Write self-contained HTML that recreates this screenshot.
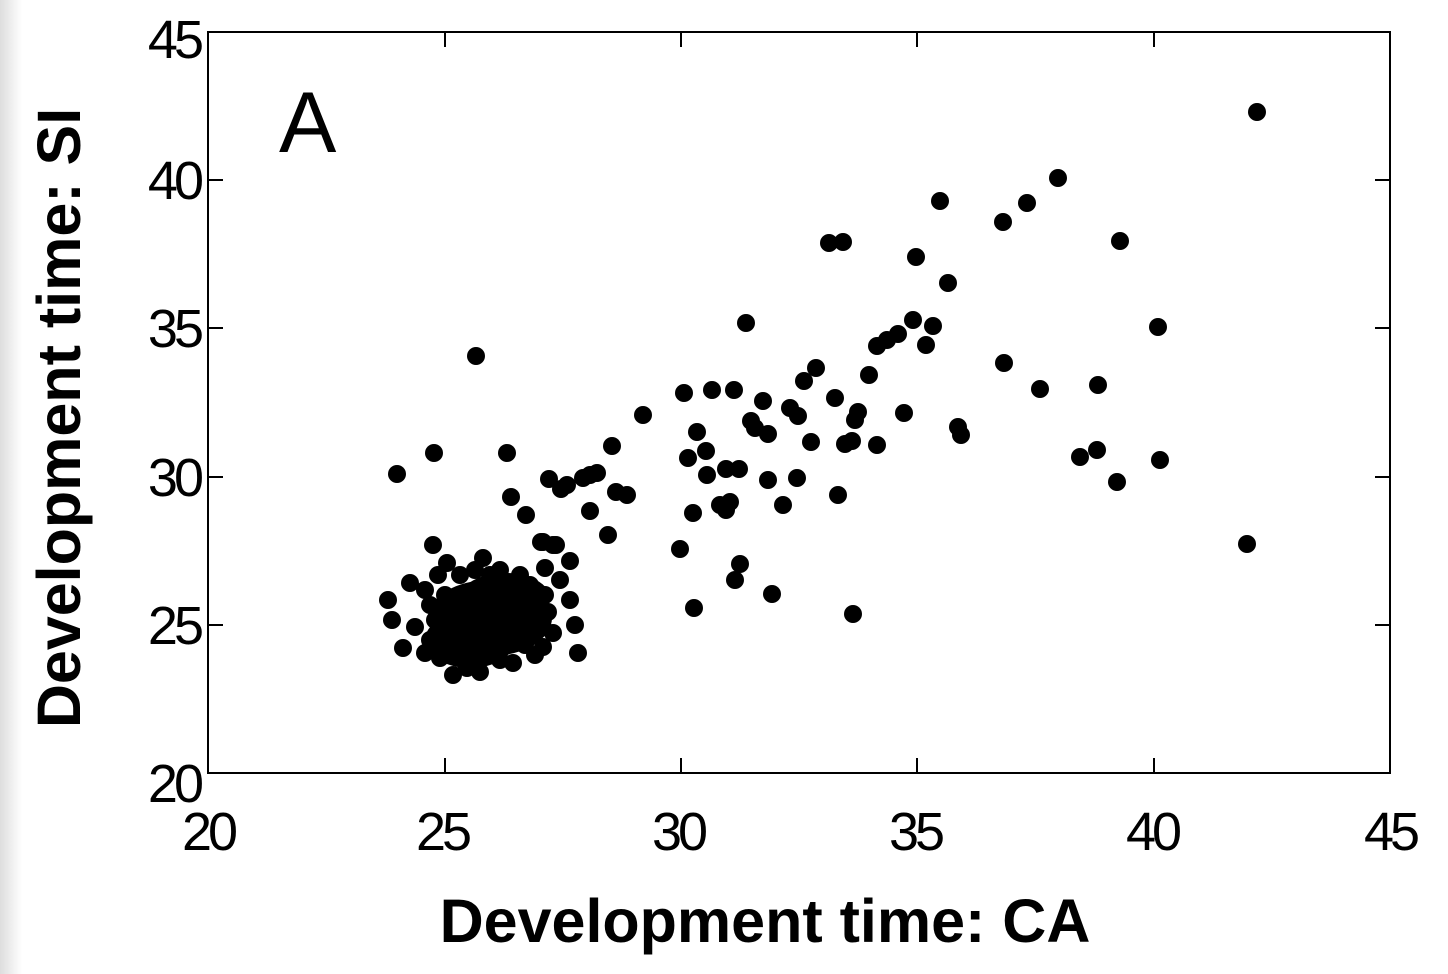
<!DOCTYPE html>
<html><head><meta charset="utf-8"><style>
html,body{margin:0;padding:0;background:#fff;}
svg{display:block;}
text{font-family:"Liberation Sans",Arial,sans-serif;}
</style></head><body>
<svg width="1448" height="974" viewBox="0 0 1448 974">
<defs><linearGradient id="g" x1="0" x2="1"><stop offset="0" stop-color="#ddd"/><stop offset="1" stop-color="#fff"/></linearGradient></defs>
<rect x="0" y="0" width="22" height="974" fill="url(#g)"/>
<rect x="208" y="32" width="1182" height="741" fill="none" stroke="#000" stroke-width="2"/>
<g stroke="#000" stroke-width="2">
<line x1="445" y1="773" x2="445" y2="758"/><line x1="681" y1="773" x2="681" y2="758"/><line x1="917" y1="773" x2="917" y2="758"/><line x1="1154" y1="773" x2="1154" y2="758"/>
<line x1="445" y1="32" x2="445" y2="47"/><line x1="681" y1="32" x2="681" y2="47"/><line x1="917" y1="32" x2="917" y2="47"/><line x1="1154" y1="32" x2="1154" y2="47"/>
<line x1="208" y1="625" x2="223" y2="625"/><line x1="208" y1="477" x2="223" y2="477"/><line x1="208" y1="328" x2="223" y2="328"/><line x1="208" y1="180" x2="223" y2="180"/>
<line x1="1390" y1="625" x2="1375" y2="625"/><line x1="1390" y1="477" x2="1375" y2="477"/><line x1="1390" y1="328" x2="1375" y2="328"/><line x1="1390" y1="180" x2="1375" y2="180"/>
</g>
<g font-size="54" fill="#000" letter-spacing="-4">
<text x="208" y="850" text-anchor="middle">20</text><text x="442" y="850" text-anchor="middle">25</text><text x="678" y="850" text-anchor="middle">30</text><text x="915" y="850" text-anchor="middle">35</text><text x="1152" y="850" text-anchor="middle">40</text><text x="1390" y="850" text-anchor="middle">45</text>
<text x="200" y="802" text-anchor="end">20</text><text x="200" y="644" text-anchor="end">25</text><text x="200" y="496" text-anchor="end">30</text><text x="200" y="347" text-anchor="end">35</text><text x="200" y="199" text-anchor="end">40</text><text x="200" y="58" text-anchor="end">45</text>
</g>
<text x="279" y="152" font-size="86">A</text>
<text x="765" y="942" font-size="61" font-weight="bold" text-anchor="middle">Development time: CA</text>
<text transform="translate(80,418) rotate(-90)" font-size="61" font-weight="bold" text-anchor="middle">Development time: SI</text>
<g fill="#000">
<ellipse cx="490" cy="618" rx="62" ry="38"/>
<ellipse cx="470" cy="640" rx="45" ry="28"/>
<ellipse cx="505" cy="598" rx="45" ry="25"/>
</g>
<g fill="#000">
<circle cx="1257" cy="112" r="9"/><circle cx="1058" cy="178" r="9"/><circle cx="1027" cy="203" r="9"/><circle cx="940" cy="201" r="9"/><circle cx="1003" cy="222" r="9"/><circle cx="829" cy="243" r="9"/><circle cx="843" cy="242" r="9"/><circle cx="1120" cy="241" r="9"/><circle cx="916" cy="257" r="9"/><circle cx="948" cy="283" r="9"/><circle cx="746" cy="323" r="9"/><circle cx="913" cy="320" r="9"/><circle cx="933" cy="326" r="9"/><circle cx="1158" cy="327" r="9"/><circle cx="898" cy="334" r="9"/><circle cx="887" cy="340" r="9"/><circle cx="877" cy="346" r="9"/><circle cx="926" cy="345" r="9"/><circle cx="476" cy="356" r="9"/><circle cx="869" cy="375" r="9"/><circle cx="816" cy="368" r="9"/><circle cx="804" cy="381" r="9"/><circle cx="1004" cy="363" r="9"/><circle cx="1040" cy="389" r="9"/><circle cx="1098" cy="385" r="9"/><circle cx="684" cy="393" r="9"/><circle cx="712" cy="390" r="9"/><circle cx="734" cy="390" r="9"/><circle cx="835" cy="398" r="9"/><circle cx="763" cy="401" r="9"/><circle cx="643" cy="415" r="9"/><circle cx="790" cy="408" r="9"/><circle cx="798" cy="416" r="9"/><circle cx="858" cy="412" r="9"/><circle cx="855" cy="420" r="9"/><circle cx="904" cy="413" r="9"/><circle cx="751" cy="421" r="9"/><circle cx="755" cy="428" r="9"/><circle cx="697" cy="432" r="9"/><circle cx="768" cy="434" r="9"/><circle cx="958" cy="427" r="9"/><circle cx="961" cy="435" r="9"/><circle cx="811" cy="442" r="9"/><circle cx="852" cy="441" r="9"/><circle cx="845" cy="444" r="9"/><circle cx="877" cy="445" r="9"/><circle cx="612" cy="446" r="9"/><circle cx="706" cy="451" r="9"/><circle cx="1097" cy="450" r="9"/><circle cx="1080" cy="457" r="9"/><circle cx="434" cy="453" r="9"/><circle cx="507" cy="453" r="9"/><circle cx="688" cy="458" r="9"/><circle cx="1160" cy="460" r="9"/><circle cx="397" cy="474" r="9"/><circle cx="597" cy="473" r="9"/><circle cx="590" cy="475" r="9"/><circle cx="583" cy="478" r="9"/><circle cx="726" cy="469" r="9"/><circle cx="739" cy="469" r="9"/><circle cx="707" cy="475" r="9"/><circle cx="768" cy="480" r="9"/><circle cx="797" cy="478" r="9"/><circle cx="549" cy="479" r="9"/><circle cx="567" cy="485" r="9"/><circle cx="561" cy="489" r="9"/><circle cx="1117" cy="482" r="9"/><circle cx="511" cy="497" r="9"/><circle cx="616" cy="492" r="9"/><circle cx="627" cy="495" r="9"/><circle cx="838" cy="495" r="9"/><circle cx="730" cy="502" r="9"/><circle cx="720" cy="505" r="9"/><circle cx="726" cy="510" r="9"/><circle cx="783" cy="505" r="9"/><circle cx="590" cy="511" r="9"/><circle cx="693" cy="513" r="9"/><circle cx="526" cy="515" r="9"/><circle cx="608" cy="535" r="9"/><circle cx="541" cy="542" r="9"/><circle cx="556" cy="545" r="9"/><circle cx="680" cy="549" r="9"/><circle cx="1247" cy="544" r="9"/><circle cx="433" cy="545" r="9"/><circle cx="570" cy="561" r="9"/><circle cx="740" cy="564" r="9"/><circle cx="545" cy="568" r="9"/><circle cx="735" cy="580" r="9"/><circle cx="772" cy="594" r="9"/><circle cx="694" cy="608" r="9"/><circle cx="853" cy="614" r="9"/>
<circle cx="543" cy="542" r="9"/><circle cx="553" cy="545" r="9"/><circle cx="388" cy="600" r="9"/><circle cx="392" cy="620" r="9"/><circle cx="403" cy="648" r="9"/><circle cx="570" cy="600" r="9"/><circle cx="575" cy="625" r="9"/><circle cx="578" cy="653" r="9"/><circle cx="513" cy="663" r="9"/><circle cx="453" cy="675" r="9"/><circle cx="480" cy="672" r="9"/><circle cx="483" cy="558" r="9"/><circle cx="500" cy="570" r="9"/><circle cx="410" cy="583" r="9"/><circle cx="447" cy="563" r="9"/><circle cx="415" cy="627" r="9"/><circle cx="425" cy="653" r="9"/><circle cx="553" cy="633" r="9"/><circle cx="543" cy="647" r="9"/><circle cx="440" cy="658" r="9"/><circle cx="425" cy="590" r="9"/><circle cx="430" cy="605" r="9"/><circle cx="438" cy="575" r="9"/><circle cx="460" cy="575" r="9"/><circle cx="475" cy="570" r="9"/><circle cx="520" cy="575" r="9"/><circle cx="530" cy="585" r="9"/><circle cx="545" cy="595" r="9"/><circle cx="548" cy="612" r="9"/><circle cx="535" cy="655" r="9"/><circle cx="500" cy="660" r="9"/><circle cx="465" cy="662" r="9"/><circle cx="430" cy="640" r="9"/><circle cx="495" cy="655" r="9"/><circle cx="560" cy="580" r="9"/><circle cx="467" cy="668" r="9"/><circle cx="435" cy="620" r="9"/><circle cx="445" cy="595" r="9"/><circle cx="540" cy="625" r="9"/><circle cx="525" cy="645" r="9"/><circle cx="455" cy="650" r="9"/><circle cx="490" cy="575" r="9"/>
</g>
</svg>
</body></html>
